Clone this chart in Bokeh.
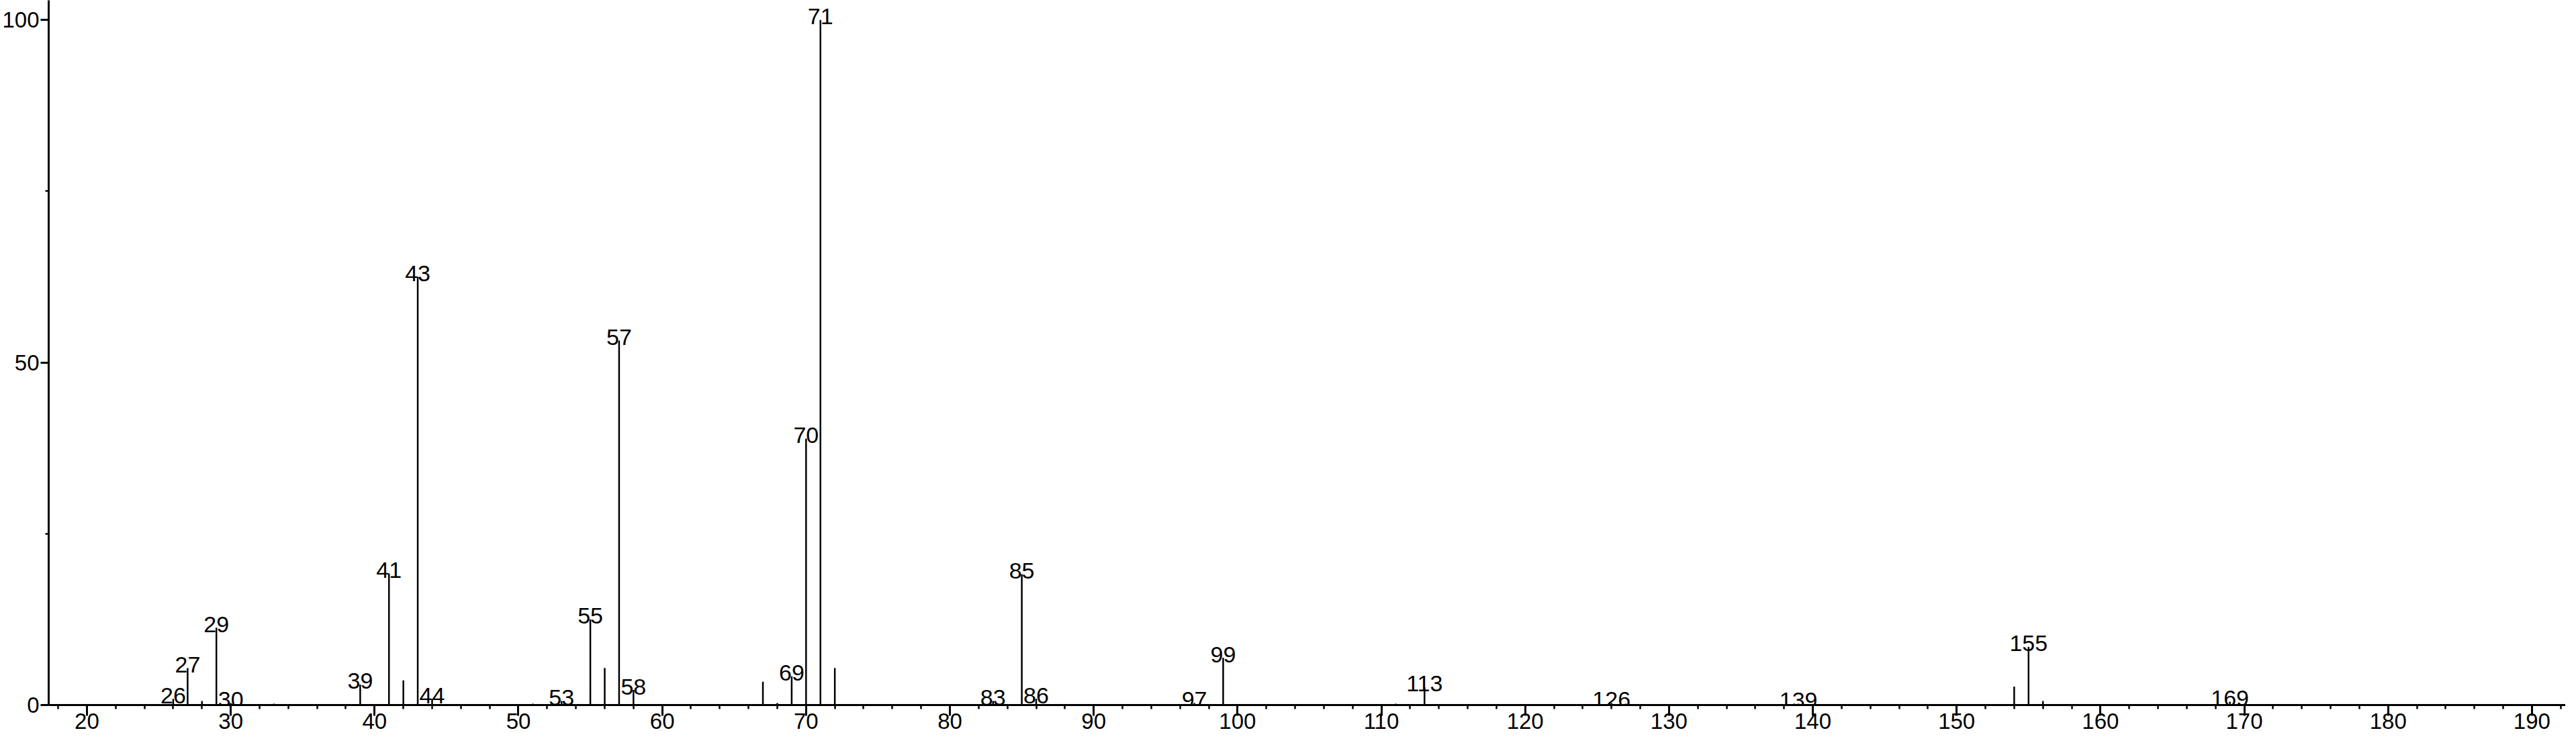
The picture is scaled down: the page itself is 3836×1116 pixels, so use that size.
from bokeh.plotting import figure
from bokeh.models import Range1d, FixedTicker, ColumnDataSource
from bokeh.core.properties import value
from bokeh.embed import file_html
from bokeh.resources import INLINE

# m/z values and relative intensities
mz = [26, 27, 28, 29, 30, 33, 39, 41, 42, 43, 44, 51, 53, 55, 56, 57, 58,
      67, 68, 69, 70, 71, 72, 83, 85, 86, 97, 99, 111, 113, 126, 127, 139,
      154, 155, 156, 169]
intensity = [0.9, 5.4, 0.6, 11.3, 0.3, 0.2, 3.0, 19.2, 3.6, 62.5, 0.9, 0.2, 0.6,
             12.5, 5.4, 53.2, 2.2, 3.4, 0.3, 4.2, 38.9, 100.0, 5.4, 0.6, 19.1,
             0.9, 0.3, 6.9, 0.2, 2.6, 0.3, 0.2, 0.2, 2.7, 8.5, 0.6, 0.5]

# peaks that carry an m/z label
labelled_mz = [26, 27, 29, 30, 39, 41, 43, 44, 53, 55, 57, 58, 69, 70, 71,
               83, 85, 86, 97, 99, 113, 126, 139, 155, 169]

x_major_ticks = [20, 30, 40, 50, 60, 70, 80, 90, 100, 110, 120, 130, 140,
                 150, 160, 170, 180, 190]
y_major_ticks = [0, 50, 100]
y_minor_ticks = [25, 75]

lookup = dict(zip(mz, intensity))
lab_y = [lookup[m] for m in labelled_mz]
lab_t = [str(m) for m in labelled_mz]

FONT = "Liberation Sans"

p = figure(width=3820, height=1100,
           x_range=Range1d(17.34, 192.34), y_range=Range1d(0, 102.86),
           output_backend="svg", toolbar_location=None,
           min_border_left=60, min_border_right=0,
           min_border_top=0, min_border_bottom=50)

p.segment(x0=mz, y0=[0] * len(mz), x1=mz, y1=intensity,
          line_color="black", line_width=2.5)

src = ColumnDataSource(dict(x=labelled_mz, y=lab_y, t=lab_t))
p.text(x="x", y="y", text="t", source=src, text_align="center",
       text_baseline="alphabetic", y_offset=-5,
       text_font=value(FONT), text_font_size="34px", text_color="black")

p.grid.visible = False
p.outline_line_color = None
p.background_fill_color = "white"
p.border_fill_color = "white"

minor_x = list(range(18, 193, 2))
p.xaxis.ticker = FixedTicker(ticks=x_major_ticks, minor_ticks=minor_x)
p.yaxis.ticker = FixedTicker(ticks=y_major_ticks, minor_ticks=y_minor_ticks)

for ax in (p.xaxis, p.yaxis):
    ax.axis_line_width = 3
    ax.axis_line_color = "black"
    ax.major_tick_line_width = 3
    ax.minor_tick_line_width = 2.5
    ax.major_tick_in = 0
    ax.minor_tick_in = 0
    ax.major_label_text_font = FONT
    ax.major_label_text_font_size = "33px"
    ax.major_label_text_color = "black"

p.xaxis.major_tick_out = 16
p.xaxis.minor_tick_out = 6
p.xaxis.major_label_standoff = -4
p.yaxis.major_tick_out = 12
p.yaxis.minor_tick_out = 5
p.yaxis.major_label_standoff = 2

open("out.html", "w").write(file_html(p, INLINE))
